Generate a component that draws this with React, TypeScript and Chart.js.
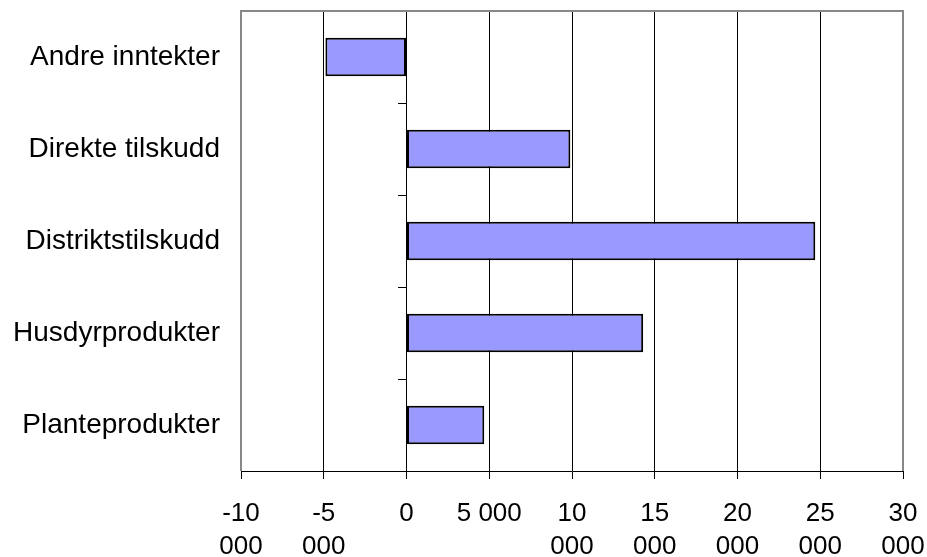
import React, { useEffect, useRef } from "react";
import { Chart, registerables } from "chart.js";

Chart.register(...registerables);

const categories = [
  "Andre inntekter",
  "Direkte tilskudd",
  "Distriktstilskudd",
  "Husdyrprodukter",
  "Planteprodukter",
];
const values = [-4900, 9900, 24700, 14300, 4700];
const xTickLabels: (string | string[])[] = [
  ["-10", "000"],
  ["-5", "000"],
  "0",
  "5 000",
  ["10", "000"],
  ["15", "000"],
  ["20", "000"],
  ["25", "000"],
  ["30", "000"],
];

const FONT = "'Liberation Sans', Arial, sans-serif";

const borderPlugin = {
  id: "plotBorder",
  beforeDatasetsDraw(chart: any) {
    const { ctx, chartArea } = chart;
    ctx.save();
    ctx.strokeStyle = "#888888";
    ctx.lineWidth = 2;
    ctx.beginPath();
    ctx.moveTo(chartArea.left, chartArea.bottom);
    ctx.lineTo(chartArea.left, chartArea.top);
    ctx.lineTo(chartArea.right, chartArea.top);
    ctx.lineTo(chartArea.right, chartArea.bottom);
    ctx.stroke();
    ctx.restore();
  },
};

export default function App() {
  const ref = useRef<HTMLCanvasElement>(null);
  useEffect(() => {
    if (!ref.current) return;
    const chart = new Chart(ref.current, {
      type: "bar",
      data: {
        labels: categories,
        datasets: [
          {
            data: values,
            backgroundColor: "#9999FF",
            borderColor: "#000000",
            borderWidth: 2,
            borderSkipped: false,
            categoryPercentage: 1,
            barPercentage: 0.42,
            yAxisID: "y",
          },
        ],
      },
      options: {
        indexAxis: "y",
        animation: false,
        responsive: false,
        maintainAspectRatio: false,
        layout: { padding: { top: 11, right: 24, left: 0, bottom: 0 } },
        plugins: { legend: { display: false }, tooltip: { enabled: false } },
        scales: {
          x: {
            type: "linear",
            position: "bottom",
            min: -10000,
            max: 30000,
            afterFit: (s: any) => {
              s.height = 86;
              s.paddingLeft = 0;
              s.paddingRight = 0;
            },
            ticks: {
              stepSize: 5000,
              autoSkip: false,
              maxRotation: 0,
              color: "#000000",
              font: { family: FONT, size: 26, lineHeight: 1.25 },
              padding: 19,
              callback: (_v: any, i: number) => xTickLabels[i],
            },
            grid: {
              color: "#000000",
              lineWidth: 1,
              drawTicks: true,
              tickLength: 8,
            },
            border: { display: true, color: "#000000", width: 1 },
          },
          y: {
            type: "category",
            position: "left",
            offset: true,
            afterFit: (s: any) => {
              s.width = 241;
              s.paddingTop = 0;
              s.paddingBottom = 0;
            },
            ticks: {
              color: "#000000",
              font: { family: FONT, size: 28 },
              padding: 21,
              crossAlign: "near",
            },
            grid: { display: false, drawTicks: false },
            border: { display: false },
          },
          y2: {
            type: "category",
            position: { x: 0 } as any,
            offset: true,
            afterFit: (s: any) => {
              s.paddingTop = 0;
              s.paddingBottom = 0;
            },
            ticks: { display: false },
            grid: {
              offset: true,
              drawOnChartArea: false,
              drawTicks: true,
              tickLength: 8,
              color: "#000000",
              lineWidth: 1,
            },
            border: { display: true, color: "#000000", width: 1 },
          },
        },
      },
      plugins: [borderPlugin],
    });
    return () => chart.destroy();
  }, []);
  return (
    <div style={{ position: "fixed", left: 0, top: 0, width: 927, height: 557, background: "#ffffff" }}>
      <canvas ref={ref} width={927} height={557} />
    </div>
  );
}
